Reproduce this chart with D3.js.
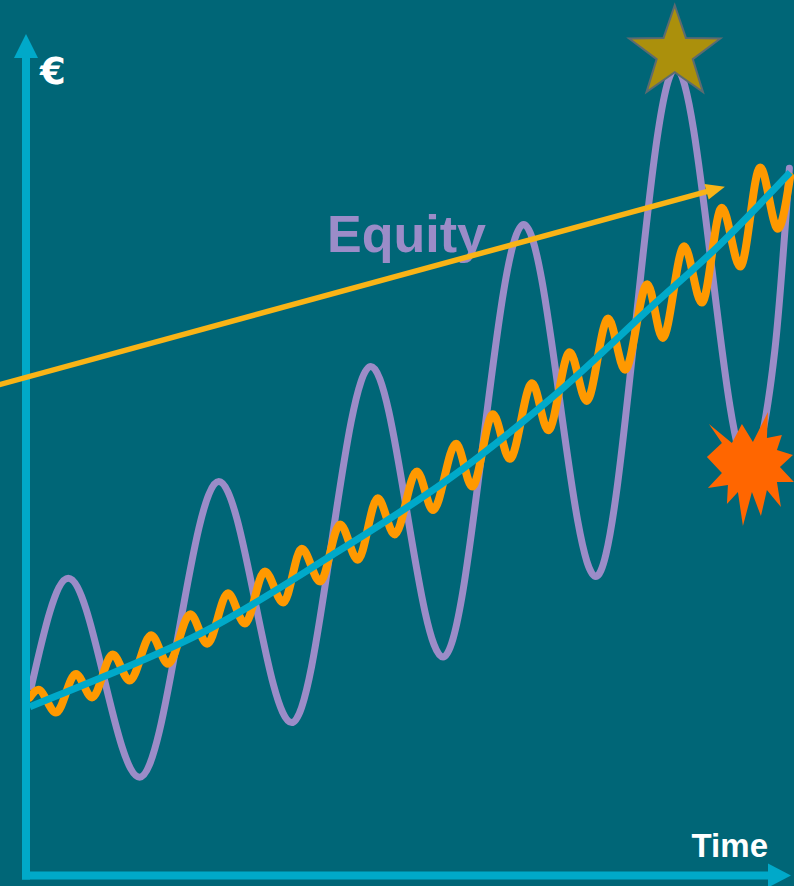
<!DOCTYPE html>
<html>
<head>
<meta charset="utf-8">
<script src="https://cdn.jsdelivr.net/npm/d3@7/dist/d3.min.js"></script>
<style>
  html, body { margin: 0; padding: 0; background: #006677; overflow: hidden; }
  svg { display: block; }
</style>
</head>
<body>
<script>
// Time runs 0..100, value (€) runs 0..100 on both scales.

// Volatile asset: turning points of the wide swings
const volatileTime  = [0.7, 5.5, 14.8, 25.1, 34.6, 44.9, 54.3, 64.8, 74.2, 84.6, 94.0, 97.5, 99.4];
const volatileValue = [22.5, 35.4, 11.7, 46.9, 18.2, 60.6, 26.0, 77.5, 35.6, 96.1, 48.5, 62.5, 84.2];

// Steady asset: small fast ripples around the trend
const steadyTime  = [0.5, 1.6, 3.9, 6.5, 8.6, 11.3, 13.5, 16.3, 18.5, 21.4, 23.6, 26.3, 28.5, 31.1,
                     33.5, 35.9, 38.3, 40.9, 43.2, 45.8, 48.0, 50.9, 53.0, 56.0, 58.1, 60.8, 63.0,
                     65.9, 68.0, 70.8, 73.0, 75.8, 78.0, 80.9, 82.9, 85.7, 88.0, 90.6, 93.0, 95.6,
                     97.9, 99.5];
const steadyValue = [21.2, 22.1, 19.4, 24.0, 21.2, 26.3, 23.2, 28.6, 25.2, 31.1, 27.6, 33.6, 30.0, 36.2,
                     32.5, 38.9, 35.0, 41.8, 37.6, 44.9, 40.6, 48.1, 43.5, 51.4, 46.3, 54.9, 49.6,
                     58.6, 53.0, 62.3, 56.5, 66.3, 60.2, 70.4, 64.0, 74.9, 68.2, 79.5, 72.5, 84.3,
                     77.0, 83.2];

// Underlying growth trend
const trendTime  = [0.5, 22.7, 39.6, 55.2, 69.5, 81.3, 90.0, 99.5];
const trendValue = [20.1, 28.8, 38.0, 47.3, 57.7, 67.6, 74.8, 83.7];

// "Equity" direction arrow (start, tip)
const arrowTime  = [-4.0, 91.0];
const arrowValue = [58.3, 82.0];

const W = 794, H = 886;
const BG = "#006677", AXIS = "#00a9c9", PURPLE = "#9b8cc8", ORANGE = "#ff9900",
      TREND = "#00a9c9", GOLD = "#f9b416", STAR = "#ab900c", BURST = "#ff6600";

const x = d3.scaleLinear().domain([0, 100]).range([26, 794]);
const y = d3.scaleLinear().domain([0, 100]).range([875.5, 35.5]);

const svg = d3.select("body").append("svg")
  .attr("width", W).attr("height", H);

svg.append("rect").attr("width", W).attr("height", H).attr("fill", BG);

const zip = (a, b) => a.map((t, i) => [t, b[i]]);
const curve = d3.line()
  .x(d => x(d[0])).y(d => y(d[1]))
  .curve(d3.curveMonotoneX);

const volatile = zip(volatileTime, volatileValue);
const steady = zip(steadyTime, steadyValue);
const trend = zip(trendTime, trendValue);

// volatile line
svg.append("path").datum(volatile)
  .attr("d", curve)
  .attr("fill", "none").attr("stroke", PURPLE)
  .attr("stroke-width", 7).attr("stroke-linecap", "round").attr("stroke-linejoin", "round");

// label
svg.append("text")
  .attr("x", 327).attr("y", 252)
  .attr("font-family", "'Liberation Sans', Arial, sans-serif")
  .attr("font-weight", "bold").attr("font-size", 52)
  .attr("fill", PURPLE)
  .text("Equity");

// steady line
svg.append("path").datum(steady)
  .attr("d", curve)
  .attr("fill", "none").attr("stroke", ORANGE)
  .attr("stroke-width", 8).attr("stroke-linecap", "round").attr("stroke-linejoin", "round");

// trend line
svg.append("path").datum(trend)
  .attr("d", d3.line().x(d => x(d[0])).y(d => y(d[1])).curve(d3.curveCatmullRom))
  .attr("fill", "none").attr("stroke", TREND)
  .attr("stroke-width", 7).attr("stroke-linecap", "butt");

// axes with arrowheads
const ox = x(0), oy = y(0);
const axisG = svg.append("g");
axisG.append("line")
  .attr("x1", ox).attr("y1", oy + 4).attr("x2", ox).attr("y2", 57)
  .attr("stroke", AXIS).attr("stroke-width", 8);
axisG.append("path")
  .attr("d", `M${ox - 12},58 L${ox},34 L${ox + 12},58 Z`)
  .attr("fill", AXIS);
axisG.append("line")
  .attr("x1", ox - 4).attr("y1", oy).attr("x2", 769).attr("y2", oy)
  .attr("stroke", AXIS).attr("stroke-width", 8);
axisG.append("path")
  .attr("d", `M768,${oy - 12} L791,${oy} L768,${oy + 12} Z`)
  .attr("fill", AXIS);

// equity arrow
const ax0 = x(arrowTime[0]), ay0 = y(arrowValue[0]);
const ax1 = x(arrowTime[1]), ay1 = y(arrowValue[1]);
const ang = Math.atan2(ay1 - ay0, ax1 - ax0);
const headLen = 19, headHalf = 8;
const bx = ax1 - headLen * Math.cos(ang), by = ay1 - headLen * Math.sin(ang);
svg.append("line")
  .attr("x1", ax0).attr("y1", ay0).attr("x2", bx + 2 * Math.cos(ang)).attr("y2", by + 2 * Math.sin(ang))
  .attr("stroke", GOLD).attr("stroke-width", 5.5);
svg.append("path")
  .attr("d", `M${ax1},${ay1} L${bx - headHalf * Math.sin(ang)},${by + headHalf * Math.cos(ang)} ` +
             `L${bx + headHalf * Math.sin(ang)},${by - headHalf * Math.cos(ang)} Z`)
  .attr("fill", GOLD);

// star on the highest peak
const peak = volatile.reduce((a, b) => (b[1] > a[1] ? b : a));
const sx = x(peak[0]) - 1, sy = y(peak[1]) - 15;
const starPts = d3.range(10).map(i => {
  const r = i % 2 === 0 ? 48 : 19;
  const a = -Math.PI / 2 + i * Math.PI / 5;
  return [sx + r * Math.cos(a), sy + r * Math.sin(a)];
});
svg.append("path")
  .attr("d", "M" + starPts.join("L") + "Z")
  .attr("fill", STAR).attr("stroke", "#5d6b70").attr("stroke-width", 2)
  .attr("stroke-linejoin", "miter");

// burst on the last trough
const crash = volatile[10];
const cx = x(crash[0]) + 2, cy = y(crash[1]) - 2;
const burstShape = [
  [-41, -42], [-18, -23], [-8, -42], [3, -24], [18, -54], [17, -28], [32, -31], [27, -16],
  [43, -11], [30, 1], [44, 16], [27, 16], [31, 41], [17, 24], [11, 50], [2, 26],
  [-7, 60], [-12, 26], [-23, 38], [-22, 19], [-42, 22], [-28, 7], [-43, -9], [-28, -23]
];
svg.append("path")
  .attr("d", "M" + burstShape.map(p => [cx + p[0], cy + p[1]]).join("L") + "Z")
  .attr("fill", BURST);

// axis titles
svg.append("text")
  .attr("x", 40).attr("y", 84)
  .attr("font-family", "'DejaVu Sans', sans-serif")
  .attr("font-weight", "bold").attr("font-size", 37)
  .attr("fill", "#ffffff")
  .text("€");
svg.append("text")
  .attr("x", 768).attr("y", 857)
  .attr("text-anchor", "end")
  .attr("font-family", "'Liberation Sans', Arial, sans-serif")
  .attr("font-weight", "bold").attr("font-size", 33)
  .attr("fill", "#ffffff")
  .text("Time");
</script>
</body>
</html>
